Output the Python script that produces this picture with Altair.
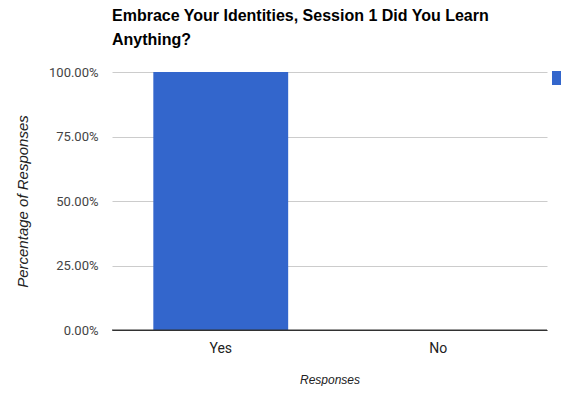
import altair as alt
import pandas as pd

categories = ["Yes", "No"]
values = [1.0, 0.0]
series_name = "Percentage"
y_ticks = [0, 0.25, 0.5, 0.75, 1.0]

df = pd.DataFrame({"Response": categories, "Value": values, "Series": [series_name] * len(categories)})

FONT = "Liberation Sans"
LFONT = "Roboto"

bars = alt.Chart(df).mark_bar(color="#3366CC").encode(
    x=alt.X("Response:N", sort=categories, scale=alt.Scale(paddingInner=0.38, paddingOuter=0.19),
            axis=alt.Axis(title="Responses", labelAngle=0, ticks=False, domainColor="#333333",
                          labelColor="#222222", labelFontSize=14, labelPadding=11, labelFont=LFONT,
                          titleFont=FONT, titleFontSize=12, titleFontStyle="italic", titleFontWeight="normal",
                          titleColor="#222222", titlePadding=19, grid=False)),
    y=alt.Y("Value:Q", scale=alt.Scale(domain=[0, 1]),
            axis=alt.Axis(title="Percentage of Responses", values=y_ticks, format=".2%", ticks=False,
                          domain=False, gridColor="#cccccc", labelColor="#444444", labelFontSize=13,
                          labelFont=LFONT, labelPadding=14, titleFont=FONT, titleFontSize=15,
                          titleFontStyle="italic", titleFontWeight="normal", titleColor="#222222",
                          titlePadding=18)),
    color=alt.Color("Series:N", scale=alt.Scale(range=["#3366CC"]),
                    legend=alt.Legend(title=None, orient="none", legendX=440, legendY=-1,
                                      padding=0, symbolType="square", symbolSize=196,
                                      symbolStrokeWidth=0, labelExpr="''", labelFont=FONT,
                                      labelFontSize=12, labelColor="#222222")),
)

baseline = alt.Chart(pd.DataFrame({"v": [0]})).mark_rule(color="#333333").encode(y="v:Q")

chart = alt.layer(bars, baseline).properties(
    width=435,
    height=258,
    title=alt.TitleParams(
        text=["Embrace Your Identities, Session 1 Did You Learn", "Anything?"],
        anchor="start", frame="group", font=FONT, fontSize=16, fontWeight="bold", color="#000000",
        lineHeight=24, offset=18,
    ),
    autosize=alt.AutoSizeParams(type="none"),
    padding={"left": 104, "top": 64, "right": 14, "bottom": 56},
).configure_view(stroke=None)

chart.save("out.html", embed_options={"renderer": "svg", "actions": False})
